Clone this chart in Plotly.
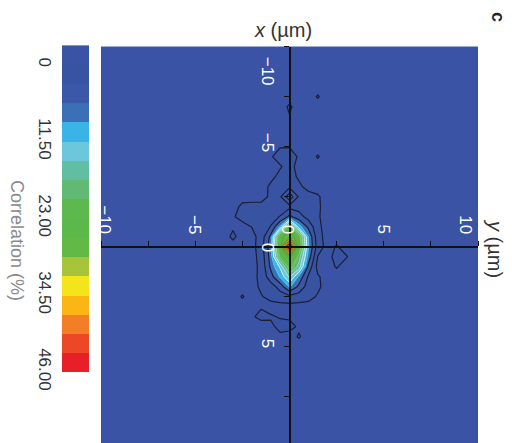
import plotly.graph_objects as go

# ---- data -----------------------------------------------------------------
# grid positions (µm): columns run along y (horizontal), rows along x (vertical)
y_um = [-11, -3.5, -3, -2.5, -2, -1.5, -1, -0.5, 0, 0.5, 1, 1.5, 2, 2.5, 3, 3.5, 11]
x_um = [-11, -8, -7.5, -7, -5.5, -5, -4.5, -4, -3.5, -3, -2.5, -2, -1.5, -1, -0.5, 0,
        0.5, 1, 1.5, 2, 2.5, 3, 3.5, 4, 4.5, 5, 11]

BG = -1.0  # background correlation level (%)

# correlation (%) ; one row per x_um value, one column per y_um value
corr = [
    [BG] * 17,                                                                              # -11
    [BG] * 17,                                                                              # -8
    [BG, BG, BG, BG, BG, BG, BG, BG, BG, BG, BG, 0.2, BG, BG, BG, BG, BG],                  # -7.5
    [BG, BG, BG, BG, BG, BG, BG, BG, 0.35, BG, BG, BG, BG, BG, BG, BG, BG],                 # -7
    [BG] * 17,                                                                              # -5.5
    [BG, BG, BG, BG, BG, BG, BG, -0.1, -0.1, BG, BG, BG, BG, BG, BG, BG, BG],               # -5
    [BG, BG, BG, BG, BG, BG, -0.2, 0.8, 1.0, -0.25, BG, 0.2, BG, BG, BG, BG, BG],           # -4.5
    [BG, BG, BG, BG, BG, BG, BG, -0.2, 0.8, -0.8, BG, BG, BG, BG, BG, BG, BG],              # -4
    [BG, BG, BG, BG, BG, BG, -0.6, 0.6, 1.0, -0.4, BG, BG, BG, BG, BG, BG, BG],             # -3.5
    [BG, BG, BG, BG, BG, -1, 0.4, 1.2, 2.2, 0.6, -1, BG, BG, BG, BG, BG, BG],               # -3
    [BG, BG, BG, -1, -1, -1, 0.5, 2.4, 7.7, 2.4, 1.2, 0.3, -1, BG, BG, BG, BG],             # -2.5
    [BG, BG, -1, 0.6, 0.8, 0.8, 1.0, 1.5, 2.0, 1.8, 1.3, 0.4, -1, BG, BG, BG, BG],          # -2
    [BG, BG, -0.3, 1.0, 0.8, 1.0, 1.8, 3.0, 6.5, 4.0, 1.8, 0.3, -1, BG, BG, BG, BG],        # -1.5
    [BG, BG, -0.3, -1, 0.1, 0.8, 3.0, 9.0, 22.0, 10.0, 5.0, 0.6, -1, BG, BG, BG, BG],       # -1
    [BG, -1, 0.5, -1, -1, 1.2, 6.5, 24.0, 29.0, 22.0, 8.5, 1.0, -1, BG, BG, BG, BG],        # -0.5
    [BG, BG, -1, -1, -1, 1.5, 7.5, 25.0, 46.0, 24.0, 9.0, 1.5, -1, 0.2, -1, BG, BG],        # 0
    [BG, BG, -1, -1, -1, 1.0, 7.0, 21.0, 27.0, 19.0, 7.5, -0.1, -1, 1.0, 0.2, -1, BG],      # 0.5
    [BG, BG, -1, -1, -1, 0.7, 6.3, 12.0, 22.0, 16.0, 5.0, -1, -1, 0.2, -1, BG, BG],         # 1
    [BG, BG, -1, -1, -1, 0.8, 4.5, 9.0, 15.0, 8.0, 2.5, 0.3, -1, BG, BG, BG, BG],           # 1.5
    [BG, BG, -1, -1, -1, 0.5, 1.5, 4.0, 9.0, 5.0, 1.5, 0.5, -1, BG, BG, BG, BG],            # 2
    [BG, BG, -1, 0.2, -1, -0.2, 0.8, 1.5, 2.0, 1.5, 0.9, -0.3, -1, BG, BG, BG, BG],         # 2.5
    [BG, BG, -1, -1, -1, -0.2, -1, -1, -1, -1, -1, -1, BG, BG, BG, BG, BG],                 # 3
    [BG, BG, -1, -1, -0.3, 0.6, 0.3, -0.2, -0.3, -1, BG, BG, BG, BG, BG, BG, BG],           # 3.5
    [BG, BG, -1, -1, -1, -1, -0.6, 0.8, 0.6, -0.3, -1, BG, BG, BG, BG, BG, BG],             # 4
    [BG, BG, -1, -1, -1, -1, -1, -0.6, -0.8, 0.2, BG, BG, BG, BG, BG, BG, BG],              # 4.5
    [BG] * 17,                                                                              # 5
    [BG] * 17,                                                                              # 11
]

# contour levels (%)
level_start = 0.0
level_step = 2.875
level_end = 43.125
cbar_min, cbar_max = -2.875, 46.0
cbar_ticks = [0, 11.5, 23, 34.5, 46]
cbar_ticktext = ["0", "11.50", "23.00", "34.50", "46.00"]

axis_ticks = [-10, -5, 0, 5, 10]
axis_ticktext = ["\u221210", "\u22125", "0", "5", "10"]

# one colour per filled band, lowest first
band_colors = [
    "#3a53a4", "#3953a3", "#3b57a7", "#3c70b6", "#3cb3e6", "#6cc7dd",
    "#61bea2", "#62b974", "#5db84d", "#5cb848", "#62b946", "#a6c53a",
    "#f4e51b", "#fbb515", "#f37e26", "#ec4726", "#e61f28",
]
# line colours for the inner (coloured) contour levels, lowest first
inner_line_colors = [
    "#56cdf2", "#eaf9ff", "#b8eef2", "#9ed89a", "#86c868", "#6aae44",
    "#5c9c36", "#66882a", "#737626", "#7c6022", "#80461c", "#7a2e18", "#b0201c",
]

# ---- figure ---------------------------------------------------------------
W, H = 512, 443
FONT = "Liberation Sans, Arial, sans-serif"
n_b = len(band_colors)
fill_scale = [[i / (n_b - 1), c] for i, c in enumerate(band_colors)]
n_l = len(inner_line_colors)
line_scale = [[i / (n_l - 1), c] for i, c in enumerate(inner_line_colors)]

xdom = [101 / W, 478 / W]
ydom = [0.0, (H - 46.7) / H]
xrange_ = [-10, 10]
yrange_ = [9.815, -10]

fig = go.Figure()

fig.add_trace(go.Contour(
    x=y_um, y=x_um, z=corr,
    autocontour=False,
    contours=dict(start=level_start, end=level_end, size=level_step, coloring="fill"),
    colorscale=fill_scale,
    line=dict(width=0, smoothing=0),
    showscale=False, hoverinfo="skip",
))

fig.add_trace(go.Contour(
    x=y_um, y=x_um, z=corr,
    autocontour=False,
    contours=dict(start=level_start, end=level_start + 2 * level_step,
                  size=level_step, coloring="none"),
    line=dict(width=1.2, color="#1b1f33", smoothing=0),
    showscale=False, hoverinfo="skip",
))

fig.add_trace(go.Contour(
    x=y_um, y=x_um, z=corr,
    autocontour=False,
    contours=dict(start=level_start + 3 * level_step, end=level_end,
                  size=level_step, coloring="lines"),
    colorscale=line_scale,
    line=dict(width=1.0, smoothing=0),
    showscale=False, hoverinfo="skip",
))

# colour bar drawn as a one-column heatmap so that 0 sits at the top
edges = [cbar_min] + [level_start + k * level_step
                      for k in range(int(round((level_end - level_start) / level_step)) + 1)] + [cbar_max]
centers = [(a + b) / 2 for a, b in zip(edges[:-1], edges[1:])]
fig.add_trace(go.Heatmap(
    x=[0], y=centers, z=[[c] for c in centers],
    zmin=centers[0], zmax=centers[-1],
    colorscale=fill_scale, showscale=False,
    xaxis="x2", yaxis="y2", hoverinfo="skip",
))

# axes cross at the origin
x0_pos = xdom[0] + (0 - xrange_[0]) / (xrange_[1] - xrange_[0]) * (xdom[1] - xdom[0])
y0_pos = ydom[0] + (0 - yrange_[0]) / (yrange_[1] - yrange_[0]) * (ydom[1] - ydom[0])

common_axis = dict(
    showline=True, linecolor="#111", linewidth=1.5,
    ticks="outside", ticklen=5, tickcolor="#111", tickwidth=1.2,
    tickvals=axis_ticks, showticklabels=False,
    minor=dict(dtick=2.5, tick0=0, ticks="outside", ticklen=5, tickcolor="#111"),
    showgrid=False, zeroline=False, automargin=False,
)

# tick labels sit beside the crossing axes; small per-label nudges along the axis
h_label_shift = [4, 0, -2, 0, -12]     # px, along the horizontal axis
v_label_shift = [-24, 5, 0, 4, 20]     # px, along the vertical axis
label_font = dict(family=FONT, size=17, color="white")

annotations = []
for v, t, dx in zip(axis_ticks, axis_ticktext, h_label_shift):
    annotations.append(dict(
        text=t, x=v, y=0, xref="x", yref="y", showarrow=False, textangle=90,
        xanchor="center", yanchor="bottom", xshift=dx, yshift=11, font=label_font))
for v, t, dy in zip(axis_ticks, axis_ticktext, v_label_shift):
    annotations.append(dict(
        text=t, x=0, y=v, xref="x", yref="y", showarrow=False, textangle=90,
        xanchor="right", yanchor="middle", xshift=-11, yshift=dy, font=label_font))

annotations += [
    dict(text="<i>x</i> (\u00b5m)", x=283 / W, y=(H - 30) / H, xref="paper", yref="paper",
         xanchor="center", yanchor="middle",
         showarrow=False, font=dict(family=FONT, size=20, color="#333")),
    dict(text="<i>y</i> (\u00b5m)", x=495 / W, y=(H - 248) / H, xref="paper", yref="paper",
         xanchor="center", yanchor="middle",
         textangle=90, showarrow=False, font=dict(family=FONT, size=20, color="#333")),
    dict(text="Correlation (%)", x=17 / W, y=(H - 240) / H, xref="paper", yref="paper",
         xanchor="center", yanchor="middle",
         textangle=90, showarrow=False, font=dict(family=FONT, size=18, color="#8a8a8a")),
    dict(text="<b>c</b>", x=498 / W, y=(H - 17) / H, xref="paper", yref="paper",
         xanchor="center", yanchor="middle",
         textangle=90, showarrow=False, font=dict(family=FONT, size=18, color="#222")),
]

fig.update_layout(
    width=W, height=H, autosize=False,
    margin=dict(l=0, r=0, t=0, b=0, autoexpand=False),
    paper_bgcolor="white", plot_bgcolor="#3a53a4",
    showlegend=False,
    xaxis=dict(domain=xdom, range=xrange_, anchor="free", position=y0_pos, side="top",
               **common_axis),
    yaxis=dict(domain=ydom, range=yrange_, anchor="free", position=x0_pos, side="left",
               **common_axis),
    xaxis2=dict(domain=[62 / W, 89 / W], anchor="y2", visible=False, fixedrange=True,
                automargin=False),
    yaxis2=dict(
        domain=[(H - 372) / H, (H - 45.5) / H], anchor="x2", side="left",
        range=[cbar_max, cbar_min],
        tickvals=cbar_ticks, ticktext=cbar_ticktext, tickangle=90,
        tickfont=dict(family=FONT, size=17, color="#333"),
        ticks="", ticklabelstandoff=5, showline=False, showgrid=False, zeroline=False,
        automargin=False,
    ),
    annotations=annotations,
)

fig.write_html("out.html")
